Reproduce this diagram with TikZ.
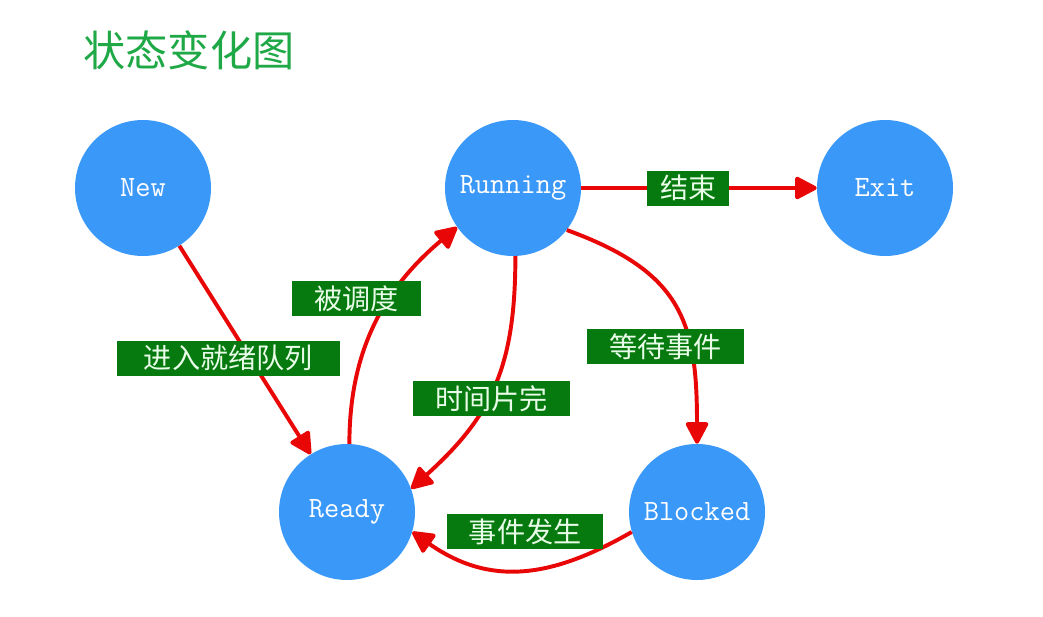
\documentclass[tikz,border=0pt]{standalone}
\usepackage{fontspec}
\newfontfamily\cjk{Noto Sans CJK SC}
\usetikzlibrary{arrows.meta, positioning}
\definecolor{stateblue}{RGB}{58,152,248}
\definecolor{labelgreen}{RGB}{6,122,14}
\definecolor{labeltext}{RGB}{232,252,232}
\definecolor{titlegreen}{RGB}{30,168,70}
\definecolor{edgered}{RGB}{232,6,6}

\begin{document}
\begin{tikzpicture}[
  state/.style={circle, fill=stateblue, minimum size=3.4cm, inner sep=0pt,
    text=white, font=\fontsize{21}{25}\selectfont\ttfamily},
  lbl/.style={fill=labelgreen, text=labeltext, font=\cjk\fontsize{20}{24}\selectfont,
    minimum height=0.875cm, inner xsep=0.55cm, inner ysep=0pt},
  trans/.style={draw=edgered, line width=2.8pt,
    -{Triangle[length=0.6cm, width=0.6cm, round]}},
]
  \useasboundingbox (0,0) rectangle (26.075,15.4);

  % 标题
  \node[anchor=west, inner sep=0pt, text=titlegreen, font=\cjk\fontsize{30}{36}\selectfont]
    (title) at (2.08,14.15) {状态变化图};

  % 五个状态
  \node[state] (new) at (3.575,10.7) {New};
  \node[state] (running) at (12.825,10.7) {Running};
  \node[state] (exit) at (22.125,10.7) {Exit};
  \node[state] (ready) at (8.675,2.6) {Ready};
  \node[state] (blocked) at (17.425,2.6) {Blocked};

  % 状态之间的转换
  \draw[trans] (new) -- node[lbl, pos=0.54, inner xsep=0.68cm, xshift=-0.55cm] (enter) {进入就绪队列} (ready);
  \draw[trans] (running) -- node[lbl, inner xsep=0.32cm, xshift=-0.27cm] (finish) {结束} (exit);
  \draw[trans] (ready.88) to[out=90, in=-140]
    node[lbl, pos=0.62, xshift=-0.85cm] (dispatch) {被调度} (running.215);
  \draw[trans] (running.-88) to[out=-90, in=42, looseness=1.1]
    node[lbl, pos=0.56, xshift=0.1cm] (timeout) {时间片完} (ready.20);
  \draw[trans] (running.-38) to[out=-20, in=90, looseness=1.25]
    node[lbl, pos=0.68, xshift=-0.6cm] (wait) {等待事件} (blocked.north);
  \draw[trans] (blocked.197) to[out=210, in=-35, looseness=1.1]
    node[lbl, pos=0.5, yshift=0.95cm, xshift=0.12cm] (occur) {事件发生} (ready.-17);
\end{tikzpicture}
\end{document}
